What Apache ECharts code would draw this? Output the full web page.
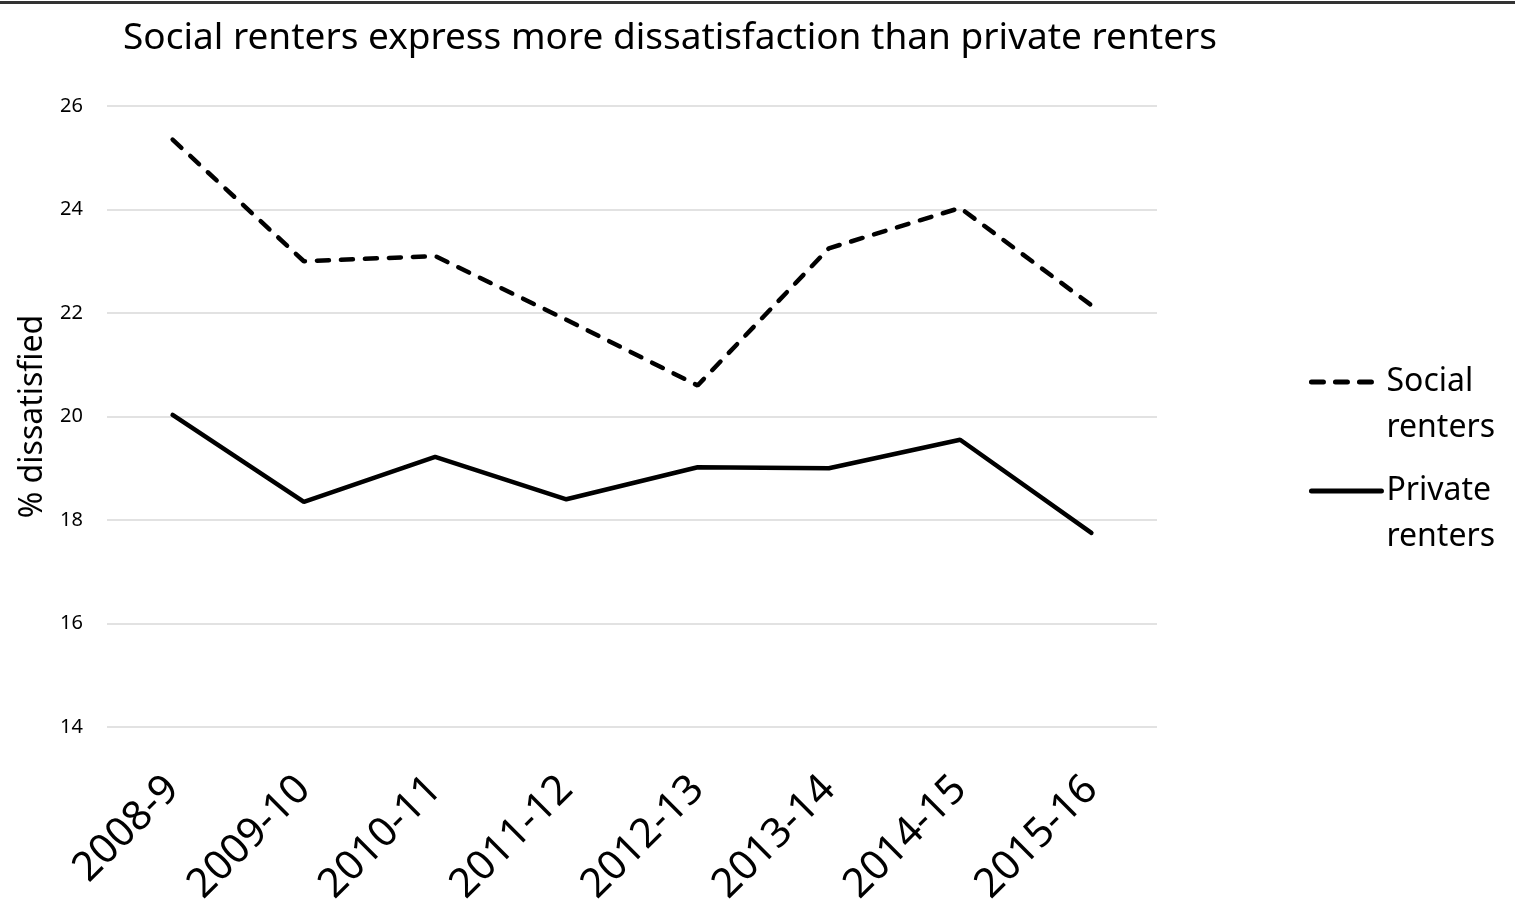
<!DOCTYPE html>
<html>
<head>
<meta charset="utf-8">
<title>Social renters vs private renters</title>
<script src="https://cdn.jsdelivr.net/npm/echarts@6/dist/echarts.min.js"></script>
<style>
  html, body { margin: 0; padding: 0; background: #fff; }
  #chart { width: 1515px; height: 923px; }
  #frame { position: absolute; left: 0; top: 1px; width: 1515px; height: 0; border-top: 3px solid #333; }
</style>
</head>
<body>
<div id="chart"></div>
<div id="frame"></div>
<script>
  // values
  var categories = ["2008-9", "2009-10", "2010-11", "2011-12", "2012-13", "2013-14", "2014-15", "2015-16"];
  var socialRenters = [25.35, 23.0, 23.1, 21.87, 20.6, 23.25, 24.03, 22.15];
  var privateRenters = [20.03, 18.35, 19.22, 18.4, 19.02, 19.0, 19.55, 17.75];
  var yTicks = { min: 14, max: 26, interval: 2 };

  var FONT = "Noto Sans";
  var INK = "#000";

  var chart = echarts.init(document.getElementById("chart"), null, { renderer: "canvas" });

  // one legend per series so each two-line label can sit where the reference has it;
  // the blank first line pushes the text down so the icon lines up with its first line
  function legendFor(name, top) {
    return {
      data: [name],
      right: 15,
      top: top,
      orient: "vertical",
      itemWidth: 70,
      itemHeight: 6,
      itemGap: 0,
      itemStyle: { color: "rgba(0,0,0,0)", borderWidth: 0 },
      lineStyle: { width: 5, cap: "round" },
      formatter: function (n) {
        var parts = n.split(" ");
        return "{s| }\n{t|" + parts[0] + "}\n{t|" + parts[1] + "}";
      },
      textStyle: {
        fontFamily: FONT, fontSize: 32, color: INK,
        rich: {
          s: { fontFamily: FONT, fontSize: 32, lineHeight: 46 },
          t: { fontFamily: FONT, fontSize: 32, lineHeight: 46, color: INK }
        }
      }
    };
  }

  chart.setOption({
    animation: false,
    backgroundColor: "#fff",
    textStyle: { fontFamily: FONT },
    title: {
      text: "Social renters express more dissatisfaction than private renters",
      left: 665,
      top: 15,
      textAlign: "center",
      textStyle: { fontFamily: FONT, fontSize: 37, fontWeight: "normal", color: INK }
    },
    legend: [legendFor("Social renters", 315), legendFor("Private renters", 424)],
    grid: { left: 107, right: 358, top: 106, bottom: 196, containLabel: false },
    xAxis: {
      type: "category",
      data: categories,
      boundaryGap: true,
      axisLine: { show: false },
      axisTick: { show: false },
      axisLabel: {
        rotate: 45, margin: 56, interval: 0,
        fontFamily: FONT, fontSize: 41, color: INK
      }
    },
    yAxis: {
      type: "value",
      min: yTicks.min, max: yTicks.max, interval: yTicks.interval,
      name: "% dissatisfied",
      nameLocation: "middle",
      nameGap: 54,
      nameTextStyle: { fontFamily: FONT, fontSize: 32, color: INK },
      axisLine: { show: false },
      axisTick: { show: false },
      axisLabel: { fontFamily: FONT, fontSize: 20, color: INK, margin: 24 },
      splitLine: { lineStyle: { color: "#d9d9d9", width: 1.5 } }
    },
    series: [
      {
        name: "Social renters", type: "line", data: socialRenters,
        symbol: "none", smooth: false,
        lineStyle: { color: INK, width: 4.5, type: [12, 12], cap: "round" },
        itemStyle: { color: INK }
      },
      {
        name: "Private renters", type: "line", data: privateRenters,
        symbol: "none", smooth: false,
        lineStyle: { color: INK, width: 4.5, type: "solid", cap: "round" },
        itemStyle: { color: INK }
      }
    ]
  });
</script>
</body>
</html>
